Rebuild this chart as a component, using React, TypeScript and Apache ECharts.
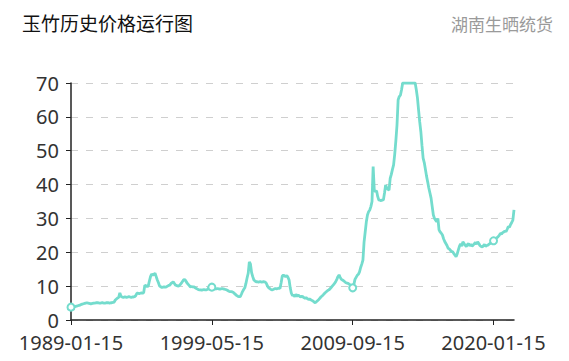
import React, { useEffect, useRef } from "react";
import * as echarts from "echarts";

const TITLE = "玉竹历史价格运行图";
const SUBTITLE = "湖南生晒统货";
const START_YEAR = 1989;
const END_YEAR = 2021;
const END_MONTH = 7;

// monthly prices (15th of each month), one row per year
const p1989 = [3.8, 3.6, 3.7, 3.9, 4.0, 4.1, 4.2, 4.3, 4.4, 4.6, 4.7, 4.8];
const p1990 = [4.9, 5.0, 5.1, 5.0, 4.9, 4.8, 4.8, 4.9, 5.0, 5.0, 5.1, 5.1];
const p1991 = [5.1, 5.0, 5.0, 5.1, 5.1, 5.0, 5.0, 5.1, 5.1, 5.1, 5.0, 5.1];
const p1992 = [5.1, 5.2, 5.3, 5.9, 6.2, 6.5, 6.7, 8.0, 7.0, 6.8, 6.7, 6.8];
const p1993 = [6.8, 6.7, 6.8, 6.9, 6.8, 6.7, 6.8, 6.8, 6.9, 7.2, 7.9, 7.9];
const p1994 = [7.8, 7.9, 8.0, 7.9, 8.1, 10.3, 10.1, 9.9, 10.0, 11.5, 12.8, 13.6];
const p1995 = [13.2, 13.5, 13.8, 12.8, 11.8, 11.0, 10.0, 9.8, 9.6, 9.7, 9.8, 9.7];
const p1996 = [9.8, 10.0, 10.2, 10.3, 10.8, 11.0, 11.3, 10.8, 10.3, 10.2, 10.0, 10.1];
const p1997 = [10.4, 10.8, 11.3, 11.8, 12.0, 11.6, 11.0, 10.6, 10.2, 9.8, 9.9, 9.8];
const p1998 = [9.8, 9.6, 9.4, 9.2, 9.0, 8.9, 8.9, 8.8, 8.9, 9.0, 8.9, 8.9];
const p1999 = [9.0, 9.4, 10.0, 10.2, 9.7, 9.5, 9.3, 9.2, 9.2, 9.3, 9.2, 9.1];
const p2000 = [9.2, 9.3, 9.2, 9.1, 9.0, 8.9, 8.7, 8.5, 8.4, 8.4, 8.3, 8.1];
const p2001 = [7.8, 7.5, 7.2, 7.0, 6.9, 6.9, 7.6, 8.4, 9.0, 9.5, 10.8, 12.4];
const p2002 = [13.8, 17.2, 16.5, 14.0, 12.8, 11.8, 11.5, 11.3, 11.3, 11.2, 11.3, 11.3];
const p2003 = [11.2, 11.3, 11.3, 11.2, 10.8, 10.0, 9.5, 9.3, 9.0, 8.9, 9.0, 9.2];
const p2004 = [9.3, 9.2, 9.3, 9.4, 9.3, 11.0, 13.0, 13.3, 13.0, 12.8, 13.1, 12.6];
const p2005 = [11.8, 9.5, 7.9, 7.2, 7.4, 6.9, 7.6, 7.0, 7.4, 7.1, 6.8, 7.0];
const p2006 = [6.9, 6.6, 6.4, 6.6, 6.3, 6.1, 6.2, 6.0, 5.8, 5.6, 5.3, 5.1];
const p2007 = [5.4, 5.7, 6.0, 6.4, 6.8, 7.1, 7.4, 7.8, 8.1, 8.4, 8.7, 8.9];
const p2008 = [9.2, 9.6, 10.0, 10.4, 10.8, 11.3, 12.0, 12.8, 13.3, 12.6, 12.0, 11.8];
const p2009 = [11.6, 11.3, 11.0, 10.9, 10.8, 10.6, 10.2, 9.9, 9.5, 10.4, 12.0, 12.6];
const p2010 = [13.2, 13.5, 14.2, 15.5, 16.5, 17.7, 23.0, 26.0, 29.0, 31.0, 32.0, 32.5];
const p2011 = [33.5, 35.0, 45.3, 38.4, 37.9, 38.2, 36.5, 35.4, 35.4, 35.2, 35.5, 35.4];
const p2012 = [37.5, 39.9, 39.0, 38.6, 38.4, 41.8, 43.0, 44.5, 45.8, 49.0, 53.0, 57.6];
const p2013 = [65.0, 66.0, 66.4, 68.0, 70, 70, 70, 70, 70, 70, 70, 70];
const p2014 = [70, 70, 70, 70, 68.0, 65.6, 62.0, 58.5, 55.6, 51.5, 47.8, 46.5];
const p2015 = [44.5, 42.5, 40.8, 39.0, 37.5, 36.0, 33.5, 31.0, 30.0, 29.5, 29.0, 30.0];
const p2016 = [26.6, 26.0, 25.6, 25.1, 24.0, 23.2, 22.6, 22.0, 21.2, 21.0, 20.6, 20.2];
const p2017 = [20.2, 19.6, 19.2, 18.7, 19.5, 20.7, 21.8, 22.5, 21.8, 23.1, 22.6, 22.1];
const p2018 = [21.7, 22.3, 22.6, 21.9, 22.4, 21.8, 22.1, 22.5, 22.9, 22.4, 23.1, 22.6];
const p2019 = [22.0, 21.7, 21.6, 21.9, 22.3, 21.8, 22.0, 22.1, 22.4, 22.6, 23.0, 23.2];
const p2020 = [23.4, 23.7, 24.1, 24.3, 24.6, 25.0, 25.6, 25.4, 25.8, 26.0, 26.3, 26.1];
const p2021 = [26.8, 27.6, 27.4, 28.2, 28.8, 29.5, 32.5];

const prices: number[] = [
  ...p1989, ...p1990, ...p1991, ...p1992, ...p1993, ...p1994, ...p1995, ...p1996,
  ...p1997, ...p1998, ...p1999, ...p2000, ...p2001, ...p2002, ...p2003, ...p2004,
  ...p2005, ...p2006, ...p2007, ...p2008, ...p2009, ...p2010, ...p2011, ...p2012,
  ...p2013, ...p2014, ...p2015, ...p2016, ...p2017, ...p2018, ...p2019, ...p2020,
  ...p2021,
];

const dates: string[] = [];
for (let y = START_YEAR; y <= END_YEAR; y++) {
  const last = y === END_YEAR ? END_MONTH : 12;
  for (let m = 1; m <= last; m++) {
    dates.push(`${y}-${m < 10 ? "0" + m : m}-15`);
  }
}

const Y_MIN = 0;
const Y_MAX = 70;
const Y_STEP = 10;
const LABEL_EVERY = 124;

const FONT = "'Noto Sans CJK SC', 'Noto Sans', sans-serif";
const AXIS_FONT = "'Noto Sans', sans-serif";
const LINE_COLOR = "#74dccd";

export default function App() {
  const ref = useRef<HTMLDivElement>(null);
  useEffect(() => {
    if (!ref.current) return;
    const chart = echarts.init(ref.current, undefined, { renderer: "svg" });
    chart.setOption({
      animation: false,
      backgroundColor: "#ffffff",
      textStyle: { fontFamily: FONT },
      title: [
        {
          text: TITLE,
          left: 17,
          top: 8,
          textStyle: { fontSize: 19, fontWeight: "normal", color: "#111", fontFamily: FONT },
        },
        {
          text: SUBTITLE,
          right: 11,
          top: 10,
          textStyle: { fontSize: 17, fontWeight: "normal", color: "#9a9a9a", fontFamily: FONT },
        },
      ],
      grid: { left: 71, right: 55, top: 83, bottom: 41, containLabel: false },
      xAxis: {
        type: "category",
        data: dates,
        boundaryGap: false,
        axisLine: { lineStyle: { color: "#222", width: 1.5 } },
        axisTick: { show: true, length: 5, lineStyle: { color: "#222" } },
        axisLabel: {
          interval: LABEL_EVERY - 1,
          color: "#333",
          fontSize: 20,
          lineHeight: 18,
          margin: 13,
          fontFamily: AXIS_FONT,
        },
        splitLine: { show: false },
      },
      yAxis: {
        type: "value",
        min: Y_MIN,
        max: Y_MAX,
        interval: Y_STEP,
        axisLine: { show: true, lineStyle: { color: "#222", width: 1.5 } },
        axisTick: { show: true, length: 5, lineStyle: { color: "#222" } },
        axisLabel: { color: "#333", fontSize: 20, lineHeight: 18, margin: 12, fontFamily: AXIS_FONT },
        splitLine: { show: true, lineStyle: { color: "#cfcfcf", type: [7, 8], width: 1 } },
      },
      series: [
        {
          type: "line",
          data: prices,
          showSymbol: true,
          showAllSymbol: "auto",
          symbol: "emptyCircle",
          symbolSize: 7,
          itemStyle: { color: LINE_COLOR, borderColor: LINE_COLOR, borderWidth: 1.5 },
          lineStyle: { color: LINE_COLOR, width: 2.8 },
        },
      ],
    });
    return () => chart.dispose();
  }, []);
  return (
    <div
      ref={ref}
      style={{ position: "fixed", left: 0, top: 0, width: 569, height: 361 }}
    />
  );
}
